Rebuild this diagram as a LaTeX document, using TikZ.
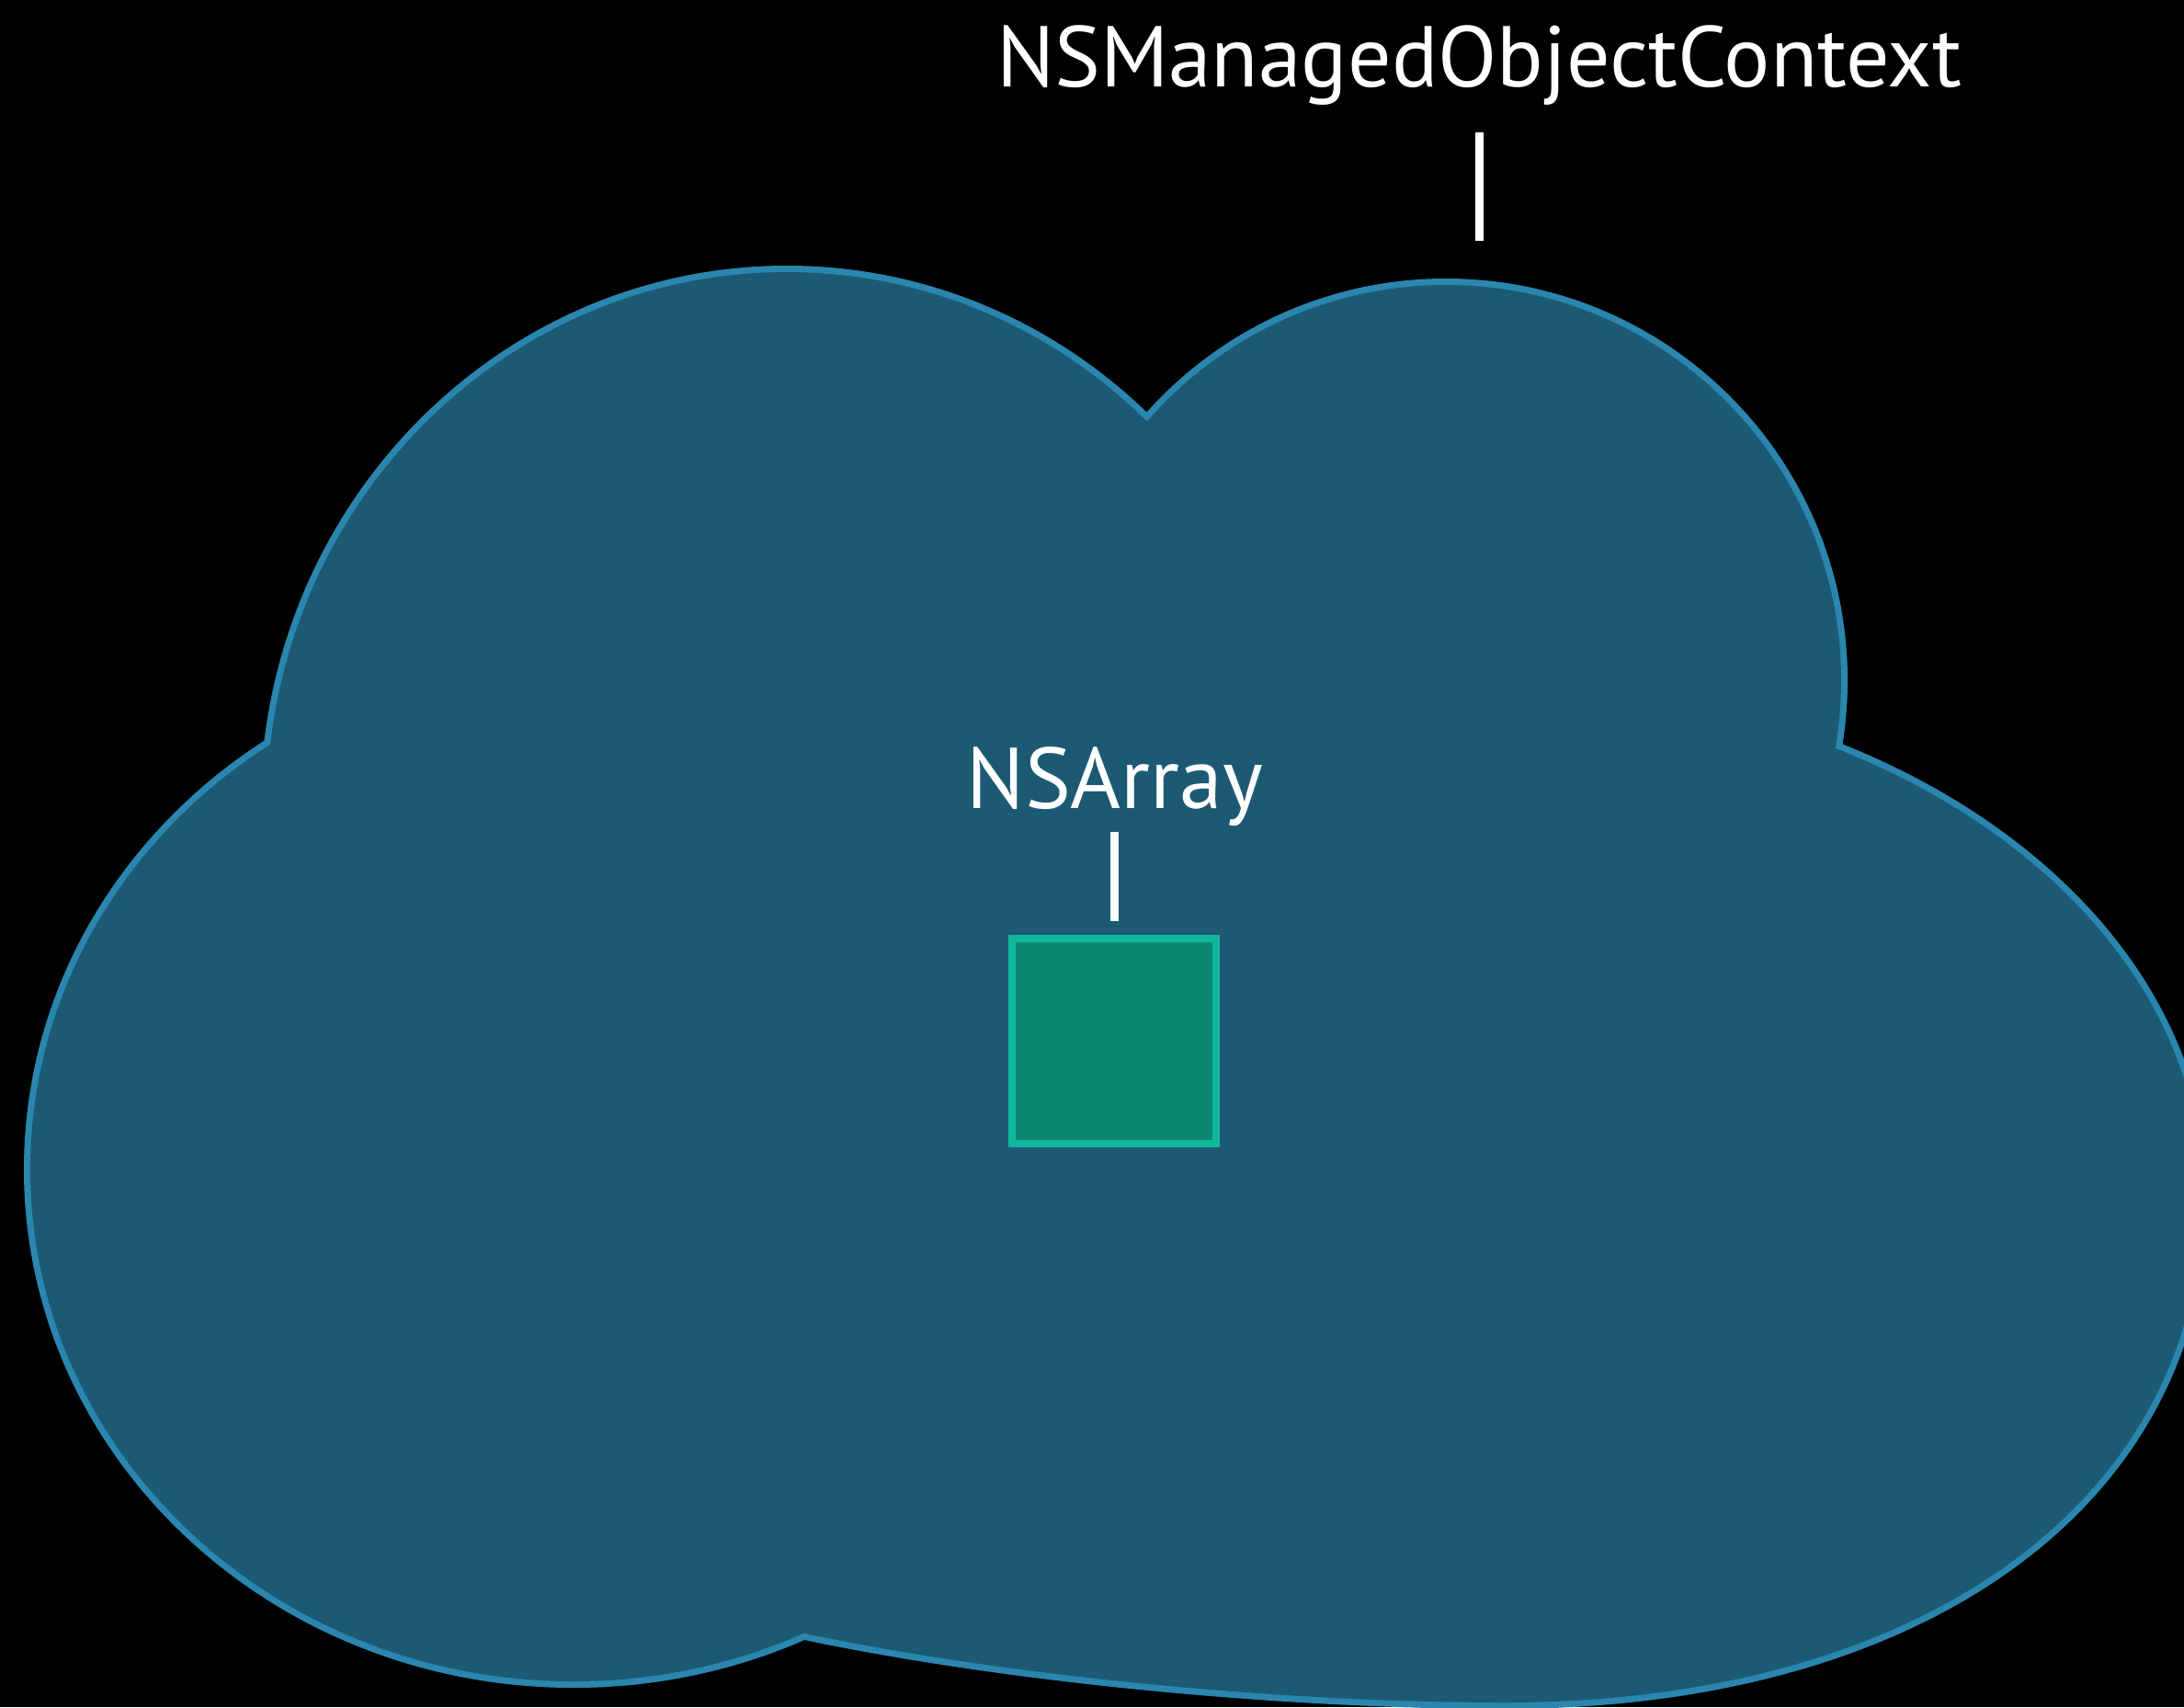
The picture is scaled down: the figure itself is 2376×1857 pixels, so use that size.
\documentclass[tikz,border=0pt]{standalone}
\usepackage{fontspec}
\setmainfont{PT Sans}
\definecolor{cloudfill}{RGB}{28,90,116}
\definecolor{cloudedge}{RGB}{42,134,174}
\definecolor{boxfill}{RGB}{14,135,114}
\definecolor{boxedge}{RGB}{16,184,155}

% The cloud is the union of a few round parts; drawing them all once with a
% wide edge-coloured stroke and then filling them all again leaves only the
% outer contour visible.
\newcommand\cloudparts[1]{%
  \path[#1] (856,880) ellipse[x radius=566, y radius=584];
  \path[#1] (1573,740) circle[radius=430];
  \path[#1] (624,1272) ellipse[x radius=591, y radius=557];
  \path[#1] (1636,748) .. controls (2056,748) and (2396,995) .. (2396,1300)
        .. controls (2396,1631) and (2092,1852) .. (1636,1852)
        .. controls (1400,1852) and (1100,1824) .. (876,1777)
        -- (800,1450) -- (1000,1000) -- cycle;
  \path[#1] (420,900) -- (1250,540) -- (1990,900) -- (1700,1650) -- (800,1650) -- cycle;
}

\begin{document}
\begin{tikzpicture}[x=0.01cm, y=-0.01cm,
    lbl/.style={text=white, inner sep=0pt, font=\fontsize{26.7}{32}\selectfont},
    tick/.style={draw=white, line width=0.09cm},
    arraybox/.style={draw=boxedge, fill=boxfill, line width=0.08cm,
      minimum size=2.22cm, inner sep=0pt}]
  \fill[black] (0,0) rectangle (2376,1857);
  \clip (0,0) rectangle (2376,1857);

  % cloud
  \cloudparts{fill=cloudedge, draw=cloudedge, line width=0.14cm, line join=round}
  \cloudparts{fill=cloudfill}

  % context label and its tick
  \node[lbl, anchor=base] (ctx) at (1609,94) {NSManagedObjectContext};
  \coordinate (ctxtop) at (1609,144);
  \coordinate (ctxbot) at (1609,262);
  \draw[tick] (ctxtop) -- (ctxbot);

  % array label, tick and box
  \node[lbl, anchor=base] (arrlbl) at (1213,879) {NSArray};
  \node[arraybox] (arr) at (1212,1132.5) {};
  \coordinate (arrtop) at (1212,905);
  \coordinate (arrbot) at (1212,1002);
  \draw[tick] (arrtop) -- (arrbot);
\end{tikzpicture}
\end{document}
